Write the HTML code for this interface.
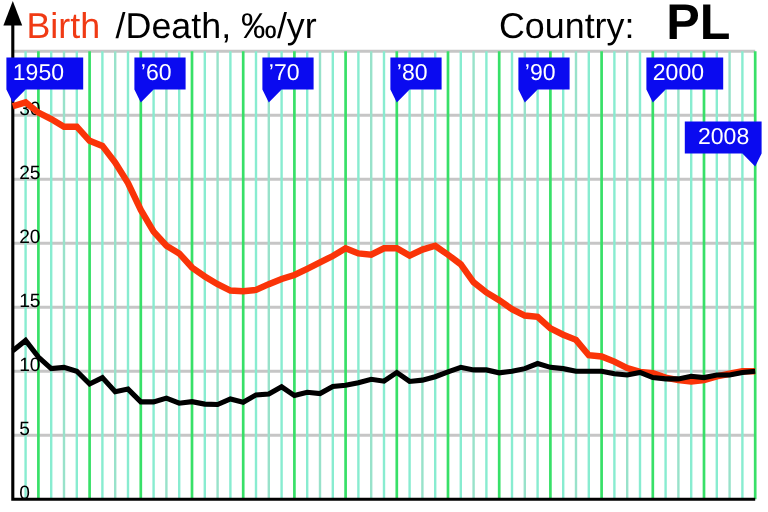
<!DOCTYPE html>
<html lang="en"><head><meta charset="utf-8"><title>Birth/Death PL</title>
<style>html,body{margin:0;padding:0;background:#fff;overflow:hidden}svg{display:block}text{font-family:"Liberation Sans",Arial,sans-serif;text-rendering:geometricPrecision}</style></head><body>
<svg width="768" height="512" viewBox="0 0 768 512">
<rect width="768" height="512" fill="#fff"/>
<g stroke="#c6c6c6" stroke-width="3" fill="none">
<path d="M12.8 435.2H755.2"/>
<path d="M12.8 371.2H755.2"/>
<path d="M12.8 307.2H755.2"/>
<path d="M12.8 243.2H755.2"/>
<path d="M12.8 179.2H755.2"/>
<path d="M12.8 115.2H755.2"/>
<path d="M12.8 51.2H755.2"/>
</g>
<g stroke="#88ecd0" stroke-width="2.4" fill="none">
<path d="M25.6 51.2V499.2"/>
<path d="M51.2 51.2V499.2"/>
<path d="M76.8 51.2V499.2"/>
<path d="M102.4 51.2V499.2"/>
<path d="M128 51.2V499.2"/>
<path d="M153.6 51.2V499.2"/>
<path d="M179.2 51.2V499.2"/>
<path d="M204.8 51.2V499.2"/>
<path d="M230.4 51.2V499.2"/>
<path d="M256 51.2V499.2"/>
<path d="M281.6 51.2V499.2"/>
<path d="M307.2 51.2V499.2"/>
<path d="M332.8 51.2V499.2"/>
<path d="M358.4 51.2V499.2"/>
<path d="M384 51.2V499.2"/>
<path d="M409.6 51.2V499.2"/>
<path d="M435.2 51.2V499.2"/>
<path d="M460.8 51.2V499.2"/>
<path d="M486.4 51.2V499.2"/>
<path d="M512 51.2V499.2"/>
<path d="M537.6 51.2V499.2"/>
<path d="M563.2 51.2V499.2"/>
<path d="M588.8 51.2V499.2"/>
<path d="M614.4 51.2V499.2"/>
<path d="M640 51.2V499.2"/>
<path d="M665.6 51.2V499.2"/>
<path d="M691.2 51.2V499.2"/>
<path d="M716.8 51.2V499.2"/>
<path d="M742.4 51.2V499.2"/>
</g>
<g stroke="#98e2ca" stroke-width="2.4" fill="none">
<path d="M64 51.2V499.2"/>
<path d="M115.2 51.2V499.2"/>
<path d="M166.4 51.2V499.2"/>
<path d="M217.6 51.2V499.2"/>
<path d="M268.8 51.2V499.2"/>
<path d="M320 51.2V499.2"/>
<path d="M371.2 51.2V499.2"/>
<path d="M422.4 51.2V499.2"/>
<path d="M473.6 51.2V499.2"/>
<path d="M524.8 51.2V499.2"/>
<path d="M576 51.2V499.2"/>
<path d="M627.2 51.2V499.2"/>
<path d="M678.4 51.2V499.2"/>
<path d="M729.6 51.2V499.2"/>
</g>
<g stroke="#38e068" stroke-width="2.7" fill="none">
<path d="M38.4 51.2V499.2"/>
<path d="M89.6 51.2V499.2"/>
<path d="M140.8 51.2V499.2"/>
<path d="M192 51.2V499.2"/>
<path d="M243.2 51.2V499.2"/>
<path d="M294.4 51.2V499.2"/>
<path d="M345.6 51.2V499.2"/>
<path d="M396.8 51.2V499.2"/>
<path d="M448 51.2V499.2"/>
<path d="M499.2 51.2V499.2"/>
<path d="M550.4 51.2V499.2"/>
<path d="M601.6 51.2V499.2"/>
<path d="M652.8 51.2V499.2"/>
<path d="M704 51.2V499.2"/>
<path d="M755.2 51.2V499.2"/>
</g>
<path d="M12.8 24V499.2H755.2" stroke="#000" stroke-width="3.1" fill="none"/>
<path d="M12.8 1L22.2 25.6H3.4Z" fill="#000"/>
<path d="M6.4 57.6H83.2V89.6H25.6L12.8 102.4L6.4 89.6Z" fill="#0a0af0"/>
<text x="12.8" y="79.6" font-size="23.04" fill="#fff">1950</text>
<path d="M134.4 57.6H185.6V89.6H153.6L140.8 102.4L134.4 89.6Z" fill="#0a0af0"/>
<text x="140.8" y="79.6" font-size="23.04" fill="#fff">’60</text>
<path d="M262.4 57.6H313.6V89.6H281.6L268.8 102.4L262.4 89.6Z" fill="#0a0af0"/>
<text x="268.8" y="79.6" font-size="23.04" fill="#fff">’70</text>
<path d="M390.4 57.6H441.6V89.6H409.6L396.8 102.4L390.4 89.6Z" fill="#0a0af0"/>
<text x="396.8" y="79.6" font-size="23.04" fill="#fff">’80</text>
<path d="M518.4 57.6H569.6V89.6H537.6L524.8 102.4L518.4 89.6Z" fill="#0a0af0"/>
<text x="524.8" y="79.6" font-size="23.04" fill="#fff">’90</text>
<path d="M646.4 57.6H723.2V89.6H665.6L652.8 102.4L646.4 89.6Z" fill="#0a0af0"/>
<text x="652.8" y="79.6" font-size="23.04" fill="#fff">2000</text>
<path d="M761.6 121.6H684.8V153.6H742.4L755.2 166.4L761.6 153.6Z" fill="#0a0af0"/>
<text x="698" y="143.6" font-size="23.04" fill="#fff">2008</text>
<text x="19.2" y="499.2" font-size="19.2" fill="#000">0</text>
<text x="19.2" y="435.2" font-size="19.2" fill="#000">5</text>
<text x="19.2" y="371.2" font-size="19.2" fill="#000">10</text>
<text x="19.2" y="307.2" font-size="19.2" fill="#000">15</text>
<text x="19.2" y="243.2" font-size="19.2" fill="#000">20</text>
<text x="19.2" y="179.2" font-size="19.2" fill="#000">25</text>
<text x="19.2" y="115.2" font-size="19.2" fill="#000">30</text>
<text x="26.4" y="38.2" font-size="35.84" fill="#f03a14">Birth</text>
<text x="115.6" y="38.2" font-size="35.84" fill="#000">/Death, ‰/yr</text>
<text x="499" y="38.2" font-size="35.84" fill="#000">Country:</text>
<text x="666.3" y="39" font-size="50.2" font-weight="bold" fill="#000">PL</text>
<polyline points="12.8,106.24 25.6,102.4 38.4,112.64 51.2,119.04 64,126.72 76.8,126.72 89.6,140.8 102.4,145.92 115.2,162.56 128,183.04 140.8,209.92 153.6,231.68 166.4,245.76 179.2,253.44 192,267.52 204.8,276.48 217.6,284.16 230.4,290.56 243.2,291.2 256,289.92 268.8,284.16 281.6,279.04 294.4,274.94 307.2,268.8 320,262.4 332.8,256 345.6,248.32 358.4,253.44 371.2,254.72 384,248.32 396.8,248.32 409.6,255.62 422.4,249.6 435.2,245.76 448,254.72 460.8,264.32 473.6,282.24 486.4,292.48 499.2,300.16 512,309.12 524.8,315.52 537.6,316.8 550.4,328.32 563.2,334.72 576,339.84 588.8,355.2 601.6,356.48 614.4,361.6 627.2,368 640,371.84 652.8,373.12 665.6,377.6 678.4,380.16 691.2,381.44 704,380.16 716.8,376.32 729.6,373.76 742.4,371.2 755.2,371.2" fill="none" stroke="#fa3408" stroke-width="6.4" stroke-linejoin="miter"/>
<polyline points="12.8,350.72 25.6,340.48 38.4,357.12 51.2,368.64 64,367.36 76.8,371.2 89.6,384 102.4,377.6 115.2,391.68 128,389.12 140.8,401.92 153.6,401.92 166.4,398.08 179.2,403.2 192,401.66 204.8,404.1 217.6,404.48 230.4,398.98 243.2,402.18 256,394.88 268.8,393.98 281.6,386.82 294.4,395.52 307.2,392.32 320,393.6 332.8,386.56 345.6,385.28 358.4,382.72 371.2,379.26 384,381.18 396.8,372.48 409.6,381.44 422.4,380.16 435.2,376.7 448,371.84 460.8,367.36 473.6,369.92 486.4,369.92 499.2,372.86 512,371.2 524.8,368.64 537.6,363.52 550.4,367.36 563.2,368.64 576,371.2 588.8,371.2 601.6,371.2 614.4,373.76 627.2,375.04 640,372.48 652.8,377.6 665.6,378.88 678.4,378.88 691.2,376.32 704,377.6 716.8,375.04 729.6,375.04 742.4,372.48 755.2,371.2" fill="none" stroke="#000" stroke-width="5.1" stroke-linejoin="miter"/>
</svg></body></html>
